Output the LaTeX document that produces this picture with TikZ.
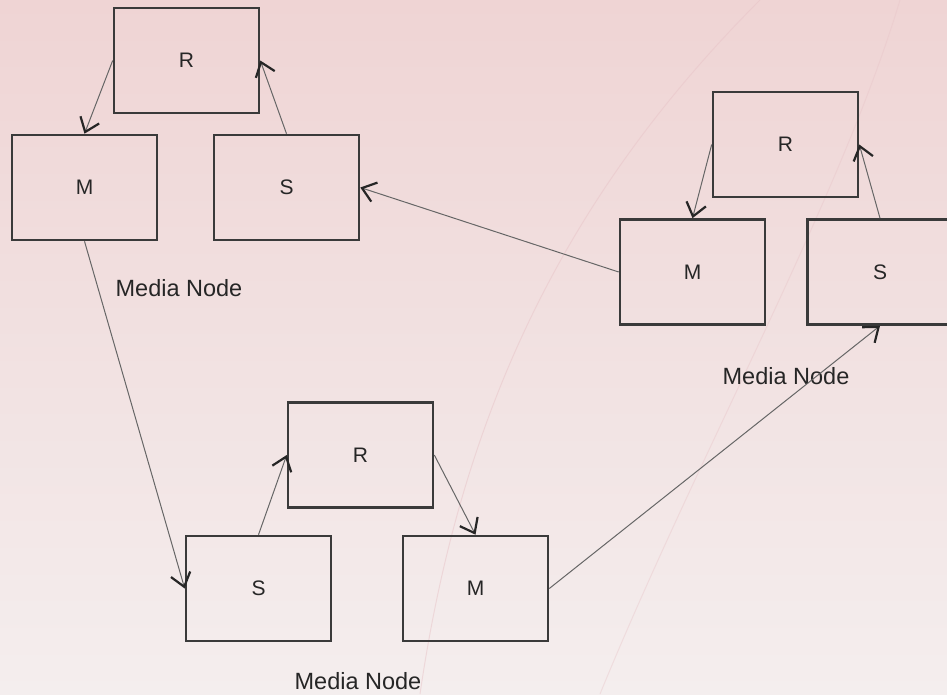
\documentclass[tikz,border=0pt]{standalone}
\usepackage{fontspec}
\setmainfont{Liberation Sans}
\usetikzlibrary{arrows.meta}
\definecolor{boxline}{HTML}{3A3A3A}
\definecolor{bgtop}{HTML}{EFD4D4}
\definecolor{bgbot}{HTML}{F4EEEE}
\definecolor{streak}{HTML}{E8C4C8}
\begin{document}
\begin{tikzpicture}[x=1pt,y=-1pt,
  box/.style={draw=boxline,line width=2.6pt,minimum width=145pt,minimum height=105pt,inner sep=0pt,font=\fontsize{21}{25}\selectfont,text=black!85},
  lbl/.style={font=\fontsize{23.5}{27}\selectfont,text=black!85,inner sep=0pt},
  conn/.style={draw=black!60,line width=1pt,-{Straight Barb[length=13pt,width=20pt,line width=2.2pt,color=black!85]}}]
\useasboundingbox (0,0) rectangle (947,694);
\shade[top color=bgtop,bottom color=bgbot] (0,0) rectangle (947,694);
% faint background streaks
\draw[streak,line width=1pt,opacity=0.5] (420,694) .. controls (460,420) and (560,200) .. (760,0);
\draw[streak,line width=1pt,opacity=0.4] (600,694) .. controls (700,450) and (840,200) .. (900,0);
% top-left media node
\node[box] (R1) at (186.5,60.5) {R};
\node[box] (M1) at (84.5,187.5) {M};
\node[box] (S1) at (286.5,187.5) {S};
\node[lbl] (L1) at (179,288) {Media Node};
% right media node
\node[box] (R2) at (785.5,144.5) {R};
\node[box] (M2) at (692.5,272) {M};
\node[box] (S2) at (880,272) {S};
\node[lbl] (L2) at (786,376) {Media Node};
% bottom media node
\node[box] (R3) at (360.5,455) {R};
\node[box] (S3) at (258.5,588.5) {S};
\node[box] (M3) at (475.5,588.5) {M};
\node[lbl] (L3) at (358,681) {Media Node};
% connectors within nodes
\draw[conn] (R1.west) -- (M1.north);
\draw[conn] (S1.north) -- (R1.east);
\draw[conn] (R2.west) -- (M2.north);
\draw[conn] (S2.north) -- (R2.east);
\draw[conn] (S3.north) -- (R3.west);
\draw[conn] (R3.east) -- (M3.north);
% connectors between nodes
\draw[conn] (M1.south) -- (S3.west);
\draw[conn] (M2.west) -- (S1.east);
\draw[conn] (M3.east) -- (S2.south);
\end{tikzpicture}
\end{document}
